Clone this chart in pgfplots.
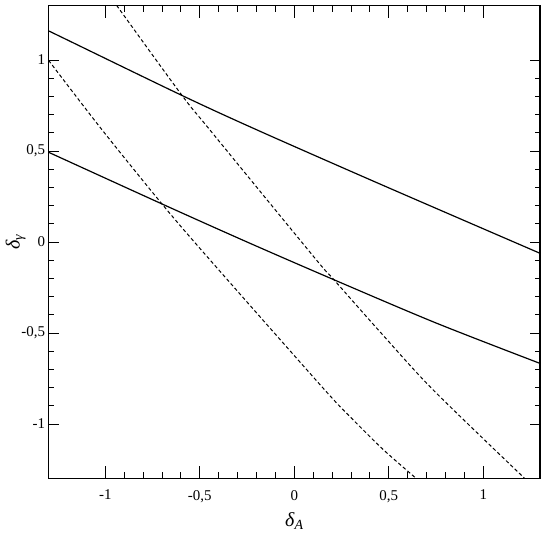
\documentclass[border=0pt]{standalone}
\usepackage{fontspec}
\setmainfont{Liberation Serif}
\usepackage{pgfplots}
\pgfplotsset{compat=1.18}
\begin{document}
\begin{tikzpicture}
  \begin{axis}[
    at={(0,0)},anchor=south west,
    scale only axis,
    width=491.4bp,height=473.2bp,
    xmin=-1.3,xmax=1.3,ymin=-1.3,ymax=1.3,
    xtick={-1,-0.5,0,0.5,1},
    ytick={-1,-0.5,0,0.5,1},
    minor tick num=4,
    tick align=inside,
    axis line style={line width=1.2pt},
    tick style={line width=0.9pt,black},
    major tick length=10bp,
    minor tick length=5bp,
    major x tick style={/pgfplots/major tick length=13bp},
    minor x tick style={/pgfplots/minor tick length=6.5bp},
    tick label style={font=\fontsize{15}{18}\selectfont},
    /pgf/number format/assume math mode=true,
    /pgf/number format/use comma,
    xticklabel style={yshift=-8bp},
    xlabel={\fontsize{20}{24}\selectfont\textit{δ}\textsubscript{\textit{A}}},
    ylabel={\fontsize{20}{24}\selectfont\textit{δ}\textsubscript{\textit{γ}}},
    xlabel style={yshift=-3bp},
    ylabel style={yshift=-11bp},
    clip=true,
  ]
    % solid lines
    \addplot[line width=1.2pt,smooth] coordinates {
      (-1.3,1.16) (-1.26,1.14) (-0.6,0.808) (-0.2,0.617)
      (0.45,0.32) (1.3,-0.062)
    };
    \addplot[line width=1.2pt,smooth] coordinates {
      (-1.3,0.493) (-0.7,0.209) (-0.25,0.0) (0.2,-0.203)
      (0.75,-0.445) (1.3,-0.667)
    };
    % dashed curves
    \addplot[line width=1pt,dash pattern=on 3.5bp off 2.5bp,smooth] coordinates {
      (-1.3,0.998) (-1.02,0.62) (-0.7,0.209) (-0.47,-0.07) (0.15,-0.80)
      (0.3,-0.965) (0.47,-1.14) (0.646,-1.3)
    };
    \addplot[line width=1pt,dash pattern=on 3.5bp off 2.5bp,smooth] coordinates {
      (-0.94,1.3) (-0.596,0.808) (-0.446,0.615) (0.11,-0.09) (0.206,-0.203)
      (0.453,-0.493) (0.735,-0.813) (1.22,-1.3)
    };
  \end{axis}
  \pgfresetboundingbox
  \path (-48.6bp,-66.4bp) rectangle (496.4bp,478.6bp);
\end{tikzpicture}
\end{document}
